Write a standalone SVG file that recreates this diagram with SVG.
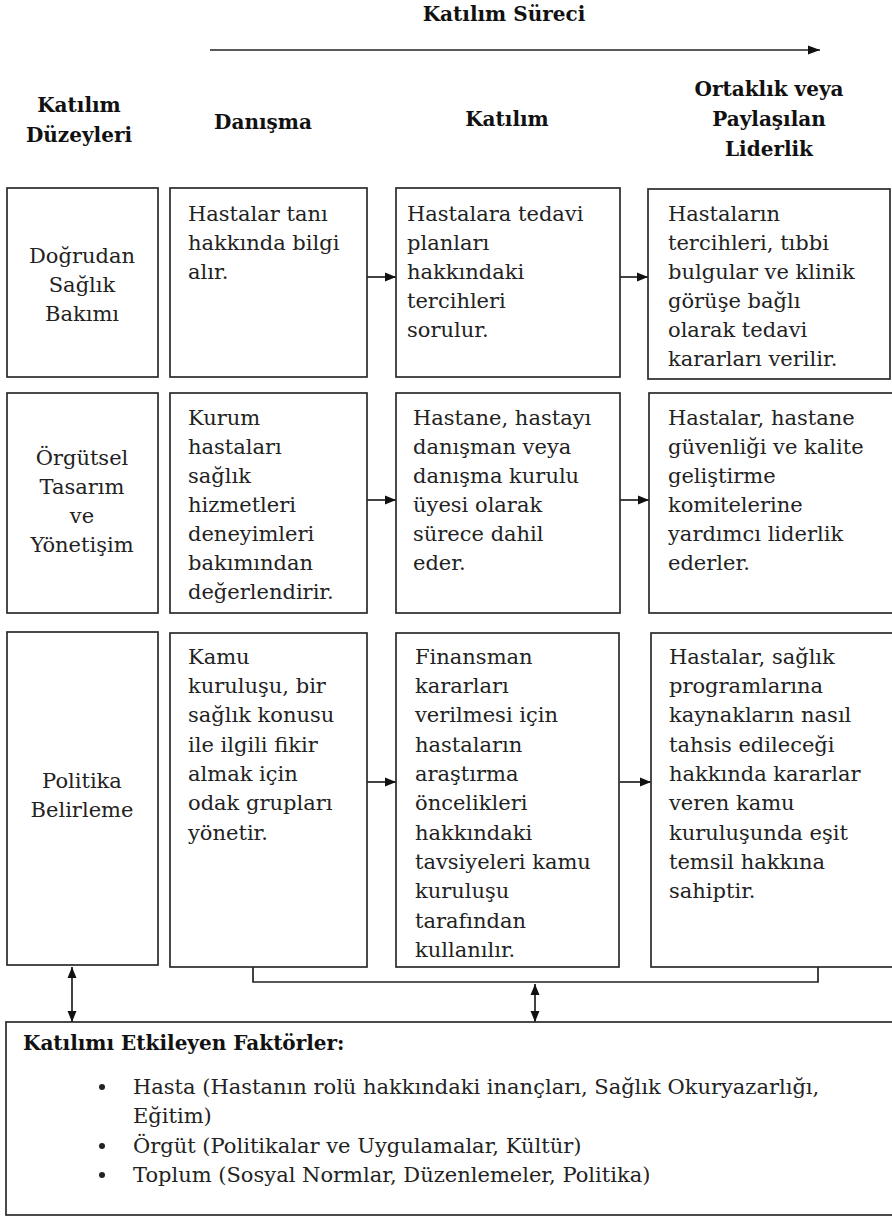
<svg xmlns="http://www.w3.org/2000/svg" width="892" height="1216" viewBox="0 0 892 1216">
<style>
.b{fill:#fff;stroke:#2b2b2b;stroke-width:1.7}
.t{font-family:"DejaVu Serif","Liberation Serif",serif;font-size:21px;fill:#222}
.c{text-anchor:middle}
.h{font-family:"DejaVu Serif","Liberation Serif",serif;font-size:20px;font-weight:bold;fill:#111}
.l{fill:none;stroke:#222;stroke-width:1.7}
</style>
<defs>
<marker id="ah" viewBox="0 0 11 10" refX="11" refY="5" markerWidth="11" markerHeight="10" markerUnits="userSpaceOnUse" orient="auto-start-reverse"><path d="M0,0.5 L11,5 L0,9.5 Z" fill="#111"/></marker>
<marker id="ahb" viewBox="0 0 12 10" refX="12" refY="5" markerWidth="12" markerHeight="10" markerUnits="userSpaceOnUse" orient="auto"><path d="M0,0.5 L12,5 L0,9.5 Z" fill="#111"/></marker>
</defs>

<g id="headers">
<text class="h c" x="504" y="21">Katılım Süreci</text>
<text class="h c" x="79" y="112">Katılım</text>
<text class="h c" x="79" y="142">Düzeyleri</text>
<text class="h c" x="263" y="129">Danışma</text>
<text class="h c" x="507" y="126">Katılım</text>
<text class="h c" x="769" y="96">Ortaklık veya</text>
<text class="h c" x="769" y="126">Paylaşılan</text>
<text class="h c" x="769" y="156">Liderlik</text>
</g>

<g id="connectors">
<line class="l" x1="210" y1="50" x2="820" y2="50" marker-end="url(#ahb)"/>
<line class="l" x1="367" y1="277" x2="396" y2="277" marker-end="url(#ah)"/>
<line class="l" x1="620" y1="277" x2="648" y2="277" marker-end="url(#ah)"/>
<line class="l" x1="367" y1="500" x2="396" y2="500" marker-end="url(#ah)"/>
<line class="l" x1="620" y1="500" x2="649" y2="500" marker-end="url(#ah)"/>
<line class="l" x1="367" y1="782" x2="396" y2="782" marker-end="url(#ah)"/>
<line class="l" x1="620" y1="782" x2="651" y2="782" marker-end="url(#ah)"/>
<polyline class="l" points="253,967 253,982 818,982 818,967"/>
<line class="l" x1="72" y1="967" x2="72" y2="1022" marker-start="url(#ah)" marker-end="url(#ah)"/>
<line class="l" x1="535" y1="984" x2="535" y2="1022" marker-start="url(#ah)" marker-end="url(#ah)"/>
</g>

<g id="row1-level">
<rect class="b" x="7" y="188" width="151" height="189"/>
<text class="t c" x="82" y="263">Doğrudan</text>
<text class="t c" x="82" y="292">Sağlık</text>
<text class="t c" x="82" y="321">Bakımı</text>
</g>
<g id="row1-danisma">
<rect class="b" x="170" y="188" width="197" height="189"/>
<text class="t" x="188" y="221">Hastalar tanı</text>
<text class="t" x="188" y="250">hakkında bilgi</text>
<text class="t" x="188" y="279">alır.</text>
</g>
<g id="row1-katilim">
<rect class="b" x="396" y="188" width="224" height="189"/>
<text class="t" x="407" y="221">Hastalara tedavi</text>
<text class="t" x="407" y="250">planları</text>
<text class="t" x="407" y="279">hakkındaki</text>
<text class="t" x="407" y="308">tercihleri</text>
<text class="t" x="407" y="337">sorulur.</text>
</g>
<g id="row1-ortaklik">
<rect class="b" x="648" y="189" width="242" height="190"/>
<text class="t" x="668" y="221">Hastaların</text>
<text class="t" x="668" y="250">tercihleri, tıbbi</text>
<text class="t" x="668" y="279">bulgular ve klinik</text>
<text class="t" x="668" y="308">görüşe bağlı</text>
<text class="t" x="668" y="337">olarak tedavi</text>
<text class="t" x="668" y="366">kararları verilir.</text>
</g>

<g id="row2-level">
<rect class="b" x="7" y="393" width="151" height="220"/>
<text class="t c" x="82" y="465">Örgütsel</text>
<text class="t c" x="82" y="494">Tasarım</text>
<text class="t c" x="82" y="523">ve</text>
<text class="t c" x="82" y="552">Yönetişim</text>
</g>
<g id="row2-danisma">
<rect class="b" x="170" y="393" width="197" height="220"/>
<text class="t" x="188" y="425">Kurum</text>
<text class="t" x="188" y="454">hastaları</text>
<text class="t" x="188" y="483">sağlık</text>
<text class="t" x="188" y="512">hizmetleri</text>
<text class="t" x="188" y="541">deneyimleri</text>
<text class="t" x="188" y="570">bakımından</text>
<text class="t" x="188" y="599">değerlendirir.</text>
</g>
<g id="row2-katilim">
<rect class="b" x="396" y="393" width="224" height="220"/>
<text class="t" x="413" y="425">Hastane, hastayı</text>
<text class="t" x="413" y="454">danışman veya</text>
<text class="t" x="413" y="483">danışma kurulu</text>
<text class="t" x="413" y="512">üyesi olarak</text>
<text class="t" x="413" y="541">sürece dahil</text>
<text class="t" x="413" y="570">eder.</text>
</g>
<g id="row2-ortaklik">
<rect class="b" x="649" y="393" width="250" height="220"/>
<text class="t" x="668" y="425">Hastalar, hastane</text>
<text class="t" x="668" y="454">güvenliği ve kalite</text>
<text class="t" x="668" y="483">geliştirme</text>
<text class="t" x="668" y="512">komitelerine</text>
<text class="t" x="668" y="541">yardımcı liderlik</text>
<text class="t" x="668" y="570">ederler.</text>
</g>

<g id="row3-level">
<rect class="b" x="7" y="632" width="151" height="333"/>
<text class="t c" x="82" y="788">Politika</text>
<text class="t c" x="82" y="817">Belirleme</text>
</g>
<g id="row3-danisma">
<rect class="b" x="170" y="633" width="197" height="334"/>
<text class="t" x="188" y="664">Kamu</text>
<text class="t" x="188" y="693">kuruluşu, bir</text>
<text class="t" x="188" y="722">sağlık konusu</text>
<text class="t" x="188" y="752">ile ilgili fikir</text>
<text class="t" x="188" y="781">almak için</text>
<text class="t" x="188" y="810">odak grupları</text>
<text class="t" x="188" y="840">yönetir.</text>
</g>
<g id="row3-katilim">
<rect class="b" x="396" y="633" width="223" height="334"/>
<text class="t" x="415" y="664">Finansman</text>
<text class="t" x="415" y="693">kararları</text>
<text class="t" x="415" y="722">verilmesi için</text>
<text class="t" x="415" y="752">hastaların</text>
<text class="t" x="415" y="781">araştırma</text>
<text class="t" x="415" y="810">öncelikleri</text>
<text class="t" x="415" y="840">hakkındaki</text>
<text class="t" x="415" y="869">tavsiyeleri kamu</text>
<text class="t" x="415" y="898">kuruluşu</text>
<text class="t" x="415" y="928">tarafından</text>
<text class="t" x="415" y="957">kullanılır.</text>
</g>
<g id="row3-ortaklik">
<rect class="b" x="651" y="633" width="250" height="334"/>
<text class="t" x="669" y="664">Hastalar, sağlık</text>
<text class="t" x="669" y="693">programlarına</text>
<text class="t" x="669" y="722">kaynakların nasıl</text>
<text class="t" x="669" y="752">tahsis edileceği</text>
<text class="t" x="669" y="781">hakkında kararlar</text>
<text class="t" x="669" y="810">veren kamu</text>
<text class="t" x="669" y="840">kuruluşunda eşit</text>
<text class="t" x="669" y="869">temsil hakkına</text>
<text class="t" x="669" y="898">sahiptir.</text>
</g>

<g id="factors">
<rect class="b" x="6" y="1022" width="900" height="193"/>
<text class="h" x="23" y="1050">Katılımı Etkileyen Faktörler:</text>
<circle cx="102" cy="1087" r="3" fill="#222"/>
<circle cx="102" cy="1146" r="3" fill="#222"/>
<circle cx="102" cy="1175" r="3" fill="#222"/>
<text class="t" x="133" y="1094">Hasta (Hastanın rolü hakkındaki inançları, Sağlık Okuryazarlığı,</text>
<text class="t" x="133" y="1123">Eğitim)</text>
<text class="t" x="133" y="1153">Örgüt (Politikalar ve Uygulamalar, Kültür)</text>
<text class="t" x="133" y="1182">Toplum (Sosyal Normlar, Düzenlemeler, Politika)</text>
</g>
</svg>
